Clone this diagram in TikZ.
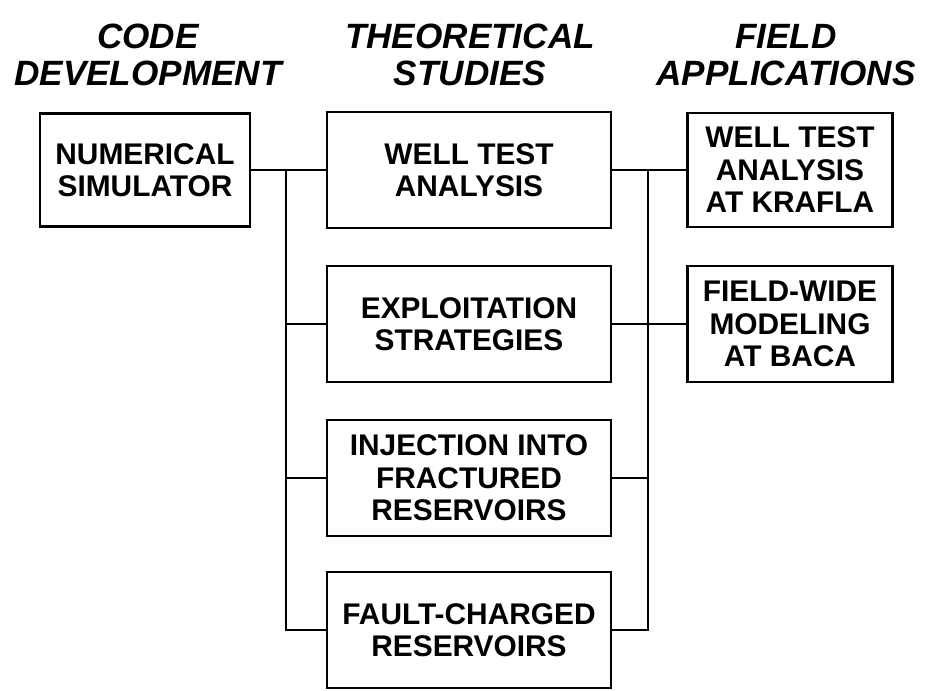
\documentclass[tikz,border=0pt]{standalone}
\usepackage{fontspec}
\setmainfont{Liberation Sans}
\usetikzlibrary{positioning}

\tikzset{
	box/.style={draw,line width=1.6pt,align=center,inner sep=0pt,
		font=\bfseries\fontsize{17}{18.5}\selectfont},
	head/.style={align=center,font=\bfseries\itshape\fontsize{20}{21}\selectfont},
	link/.style={line width=1.2pt}
}

\begin{document}
\begin{tikzpicture}[x=0.02cm,y=-0.02cm]
	\useasboundingbox (0,0) rectangle (930,690);
	% column headings
	\node[head] (hcode) at (148,55) {CODE\\DEVELOPMENT};
	\node[head] (htheo) at (470,55) {THEORETICAL\\STUDIES};
	\node[head] (hfield) at (786,55) {FIELD\\APPLICATIONS};
	% code development
	\node[box,minimum width=4.2cm,minimum height=2.26cm] (num) at (145,170) {NUMERICAL\\SIMULATOR};
	% theoretical studies
	\node[box,minimum width=5.68cm,minimum height=2.32cm] (wta) at (469,170) {WELL TEST\\ANALYSIS};
	\node[box,minimum width=5.68cm,minimum height=2.32cm] (exp) at (469,324) {EXPLOITATION\\STRATEGIES};
	\node[box,minimum width=5.68cm,minimum height=2.32cm] (inj) at (469,478) {INJECTION INTO\\FRACTURED\\RESERVOIRS};
	\node[box,minimum width=5.68cm,minimum height=2.32cm] (fault) at (469,630) {FAULT-CHARGED\\RESERVOIRS};
	% field applications
	\node[box,minimum width=4.1cm,minimum height=2.28cm] (krafla) at (790,170) {WELL TEST\\ANALYSIS\\AT KRAFLA};
	\node[box,minimum width=4.1cm,minimum height=2.32cm] (baca) at (790,324) {FIELD-WIDE\\MODELING\\AT BACA};
	% bus lines
	\coordinate (lbus) at (286,0);
	\coordinate (rbus) at (648,0);
	\draw[link] (num.east) -- (wta.west);
	\draw[link] (lbus |- num.east) |- (fault.west);
	\foreach \b in {exp,inj}
		\draw[link] (lbus |- \b.west) -- (\b.west);
	\draw[link] (wta.east) -- (krafla.west);
	\draw[link] (exp.east) -- (baca.west);
	\draw[link] (rbus |- wta.east) |- (fault.east);
	\draw[link] (inj.east) -- (rbus |- inj.east);
\end{tikzpicture}
\end{document}
